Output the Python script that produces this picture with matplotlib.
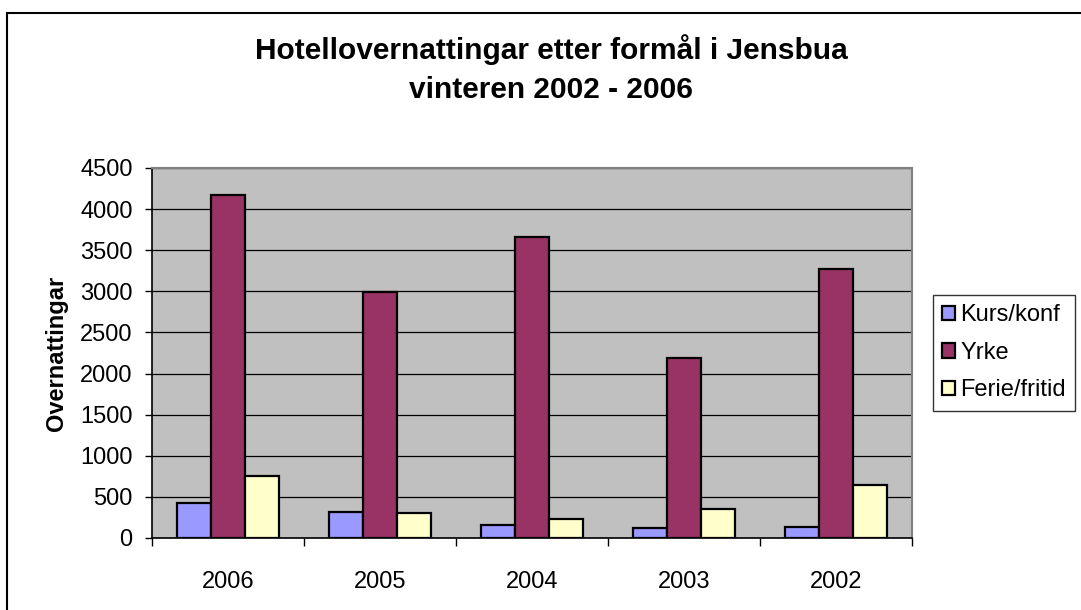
import matplotlib
matplotlib.use('Agg')
import matplotlib.pyplot as plt
import numpy as np
from matplotlib.patches import Rectangle

plt.rcParams['font.family'] = ['Liberation Sans', 'DejaVu Sans']

years = ['2006', '2005', '2004', '2003', '2002']
series = ['Kurs/konf', 'Yrke', 'Ferie/fritid']
kurs = [430, 320, 160, 120, 130]
yrke = [4170, 2990, 3660, 2190, 3275]
ferie = [750, 300, 230, 350, 650]
colors = ['#9999FF', '#993366', '#FFFFCC']

fig = plt.figure(figsize=(10.81, 6.10), dpi=100)
ax = fig.add_axes([152 / 1081, 1 - 538 / 610, 760 / 1081, 370 / 610])

# ramme rundt heile figuren
fig.patches.append(Rectangle((7.5 / 1081, -0.05), 1.0, 1 - 12.5 / 610 + 0.05,
                             transform=fig.transFigure, fill=False,
                             edgecolor='black', linewidth=1.5, zorder=0))

x = np.arange(len(years))
w = 0.224
for i, (vals, name) in enumerate(zip([kurs, yrke, ferie], series)):
    ax.bar(x + (i - 1) * w, vals, w, color=colors[i], edgecolor='black',
           linewidth=1.6, label=name, zorder=3)

ax.set_facecolor('#C0C0C0')
ax.set_xlim(-0.5, len(years) - 0.5)
ax.set_ylim(0, 4500)
ax.set_yticks(np.arange(0, 4501, 500))
ax.yaxis.grid(True, color='black', linewidth=0.9, zorder=1)
ax.set_axisbelow(True)

ax.set_xticks(x)
ax.set_xticklabels(years, fontsize=17)
ax.tick_params(axis='x', length=0, pad=24)
ax.set_xticks(np.arange(-0.5, len(years)), minor=True)
ax.tick_params(axis='x', which='minor', length=6, width=1, direction='out')
ax.tick_params(axis='y', labelsize=17, length=5, width=1, direction='out', pad=9)

for s in ['top', 'right']:
    ax.spines[s].set_color('#808080')
    ax.spines[s].set_linewidth(1.5)
for s in ['left', 'bottom']:
    ax.spines[s].set_color('black')
    ax.spines[s].set_linewidth(1.2)

ax.set_ylabel('Overnattingar', fontsize=17, fontweight='bold', labelpad=9)

fig.text(551 / 1081, 1 - 69 / 610,
         'Hotellovernattingar etter formål i Jensbua\nvinteren 2002 - 2006',
         ha='center', va='center', fontsize=21.5, fontweight='bold', linespacing=1.5)

leg = ax.legend(loc='upper left', bbox_to_anchor=(933 / 1081, 1 - 295 / 610),
                bbox_transform=fig.transFigure, fontsize=17, frameon=True,
                fancybox=False, edgecolor='black', handlelength=0.55,
                handleheight=0.55, handletextpad=0.2, borderpad=0.4,
                labelspacing=0.65, borderaxespad=0)
leg.get_frame().set_linewidth(1.0)

fig.savefig('out.png', dpi=100)
